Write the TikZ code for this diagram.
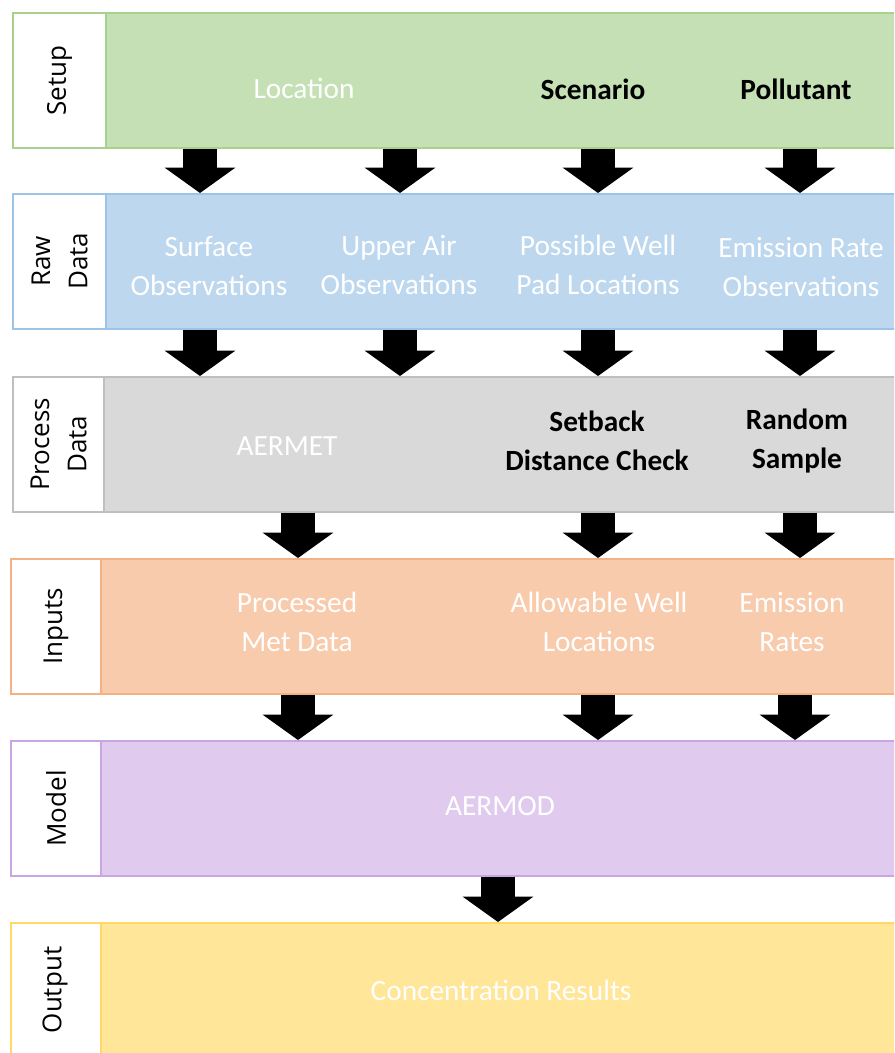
\documentclass[tikz,border=0pt]{standalone}
\usepackage{fontspec}
\setmainfont{Carlito}
\newfontfamily\sidefont{Open Sans}
\usetikzlibrary{arrows.meta}

\definecolor{setupfill}{HTML}{C5E0B4}
\definecolor{setupline}{HTML}{A9D18E}
\definecolor{rawfill}{HTML}{BDD7EE}
\definecolor{rawline}{HTML}{9DC3E6}
\definecolor{procfill}{HTML}{D9D9D9}
\definecolor{procline}{HTML}{BFBFBF}
\definecolor{inpfill}{HTML}{F8CBAD}
\definecolor{inpline}{HTML}{F4B183}
\definecolor{modfill}{HTML}{E0CBEF}
\definecolor{modline}{HTML}{C8A6E4}
\definecolor{outfill}{HTML}{FFE699}
\definecolor{outline}{HTML}{FFD966}

\begin{document}
\begin{tikzpicture}[x=0.75pt,y=-0.75pt,
	band/.style={draw, line width=1.5pt, anchor=north west, minimum height=101pt, inner sep=0pt},
	tag/.style={band, fill=white},
	body/.style={band, minimum width=600pt},
	txt/.style={font=\fontsize{22}{29}\selectfont, align=center, text=white},
	key/.style={font=\fontsize{22}{29}\selectfont\bfseries, align=center, text=black},
	side/.style={font=\sidefont\fontsize{19.5}{28}\selectfont, rotate=90, align=center},
	blk/.style={line width=26pt, -{Triangle[width=53pt,length=19pt,line width=0pt]}}]
	\useasboundingbox (0,0) rectangle (894,1053);
	\clip (0,0) rectangle (894,1053);
	
	% columns of the arrows
	\coordinate (c1) at (200,0);
	\coordinate (c2) at (400,0);
	\coordinate (c3) at (598,0);
	\coordinate (c4) at (800,0);
	\coordinate (m1) at (298,0);
	\coordinate (m4) at (795,0);
	\coordinate (mo) at (498,0);
	
	% Setup
	\node[tag, draw=setupline, minimum width=70pt] (setupT) at (12,12) {};
	\node[body, draw=setupline, fill=setupfill] (setup) at (105,12) {};
	\node[side] at (setupT.center) {Setup};
	\node[txt] (loc) at (304,88) {Location};
	\node[key] (scen) at (593,89) {Scenario};
	\node[key] (poll) at (796,89) {Pollutant};
	
	% Raw Data
	\node[tag, draw=rawline, minimum width=70pt] (rawT) at (12,193) {};
	\node[body, draw=rawline, fill=rawfill] (raw) at (105,193) {};
	\node[side] at (rawT.center) {Raw\\Data};
	\node[txt] (surf) at (209,266) {Surface\\Observations};
	\node[txt] (upper) at (399,265) {Upper Air\\Observations};
	\node[txt] (pads) at (598,265) {Possible Well\\Pad Locations};
	\node[txt] (erate) at (801,267) {Emission Rate\\Observations};
	
	% Process Data
	\node[tag, draw=procline, minimum width=68.5pt] (procT) at (12,376) {};
	\node[body, draw=procline, fill=procfill] (proc) at (103,376) {};
	\node[side] at (procT.center) {Process\\Data};
	\node[txt] (aermet) at (287,446) {AERMET};
	\node[key] (setback) at (597,441) {Setback\\Distance Check};
	\node[key] (sample) at (797,441) {Random\\Sample};
	
	% Inputs
	\node[tag, draw=inpline, minimum width=67.5pt] (inpT) at (10,558) {};
	\node[body, draw=inpline, fill=inpfill] (inp) at (100,558) {};
	\node[side] at (inpT.center) {Inputs};
	\node[txt] (met) at (297,622) {Processed\\Met Data};
	\node[txt] (wells) at (599,622) {Allowable Well\\Locations};
	\node[txt] (rates) at (792,622) {Emission\\Rates};
	
	% Model
	\node[tag, draw=modline, minimum width=67.5pt] (modT) at (10,740) {};
	\node[body, draw=modline, fill=modfill] (mod) at (100,740) {};
	\node[side] at (modT.center) {Model};
	\node[txt] (aermod) at (500,806) {AERMOD};
	
	% Output
	\node[tag, draw=outline, minimum width=67.5pt, minimum height=110pt] (outT) at (10,922) {};
	\node[body, draw=outline, fill=outfill, minimum height=110pt] (out) at (100,922) {};
	\node[side] at (10+45,990) {Output};
	\node[txt] (conc) at (501,990) {Concentration Results};
	
	% arrows
	\foreach \c in {c1,c2,c3,c4}{
		\draw[blk] (setup.south -| \c) -- (raw.north -| \c);
		\draw[blk] (raw.south -| \c) -- (proc.north -| \c);
	}
	\foreach \c in {m1,c3,c4}{
		\draw[blk] (proc.south -| \c) -- (inp.north -| \c);
	}
	\foreach \c in {m1,c3,m4}{
		\draw[blk] (inp.south -| \c) -- (mod.north -| \c);
	}
	\draw[blk] (mod.south -| mo) -- (out.north -| mo);
\end{tikzpicture}
\end{document}
